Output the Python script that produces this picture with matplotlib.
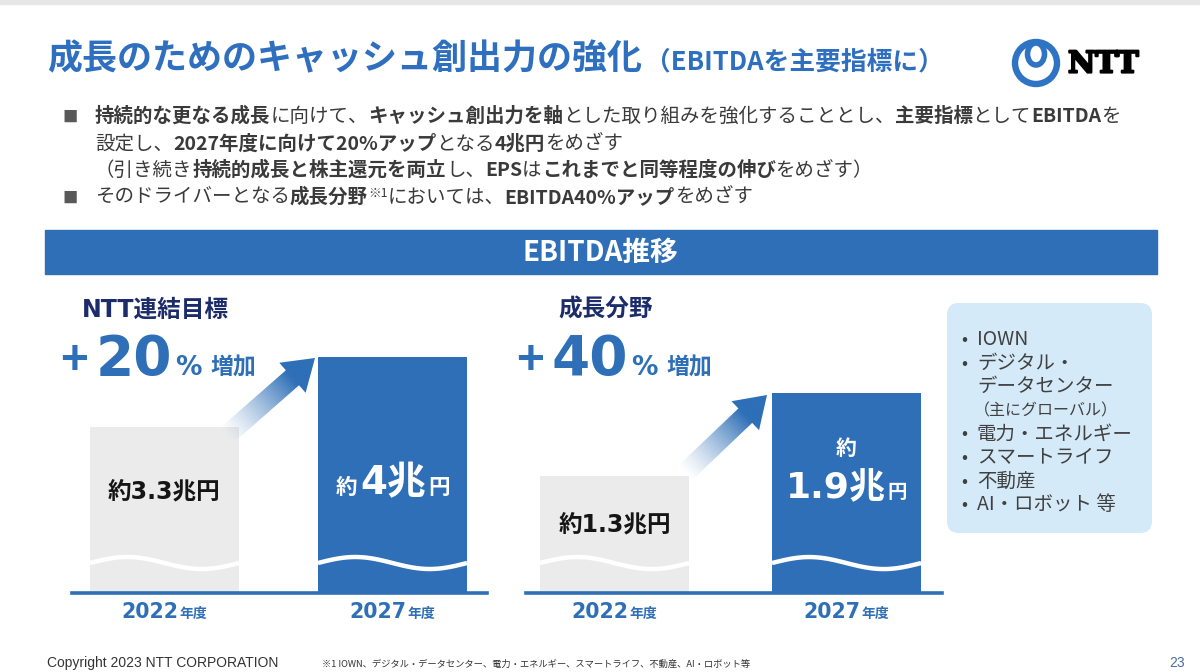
import numpy as np
import matplotlib
matplotlib.use('Agg')
import matplotlib.pyplot as plt
import matplotlib.patheffects as pe
from matplotlib.patches import Rectangle, FancyBboxPatch, Polygon, Circle, Ellipse

plt.rcParams['font.family'] = ['Noto Sans CJK JP', 'DejaVu Sans']
WIDE = ['DejaVu Sans', 'Noto Sans CJK JP']

# ---- data ----
years = ['2022', '2027']
ntt_ebitda = [3.3, 4.0]        # 兆円
growth_ebitda = [1.3, 1.9]     # 兆円
ntt_title = 'NTT連結目標'
growth_title = '成長分野'
ntt_rate = '20'
growth_rate = '40'
growth_fields = ['IOWN', 'デジタル・', 'データセンター', '（主にグローバル）',
                 '電力・エネルギー', 'スマートライフ', '不動産', 'AI・ロボット 等']
field_bullet = [True, True, False, False, True, True, True, True]

# bullet text: (text, bold)
line1 = [('持続的な更なる成長', 1), ('に向けて、', 0), ('キャッシュ創出力を軸', 1),
         ('とした取り組みを強化することとし、', 0), ('主要指標', 1), ('として', 0),
         ('EBITDA', 1), ('を', 0)]
line2 = [('設定し、', 0), ('2027年度に向けて20%アップ', 1), ('となる', 0), ('4兆円', 1), ('をめざす', 0)]
line3 = [('（引き続き', 0), ('持続的成長と株主還元を両立', 1), ('し、', 0), ('EPS', 1), ('は', 0),
         ('これまでと同等程度の伸び', 1), ('をめざす）', 0)]
line4 = [('そのドライバーとなる', 0), ('成長分野', 1), ('※1', 2), ('においては、', 0),
         ('EBITDA40%アップ', 1), ('をめざす', 0)]

BLUE = '#2e6fb7'
TITLE_BLUE = '#2f6fbf'
NAVY = '#1c2c6b'
GRAY_BAR = '#ebebeb'
TEXT = '#3a3a3a'

W, H = 1200, 672
fig = plt.figure(figsize=(12, 6.72), dpi=100)
BASE_PX = 593


def bar_panel(x0, x1, c0, c1, bar_px, vals, base, brk, ppu, top_px=330):
    ax = fig.add_axes([x0 / W, (H - BASE_PX) / H, (x1 - x0) / W, (BASE_PX - top_px) / H])
    step = c1 - c0
    ax.set_xlim(-(c0 - x0) / step, 1 + (x1 - c1) / step)
    ax.set_ylim(base, base + (BASE_PX - top_px) / ppu)
    bars = ax.bar(range(len(vals)), [v - base for v in vals], bottom=base,
                  width=bar_px / step, color=[GRAY_BAR, BLUE])
    t = np.linspace(0, 1, 120)
    for b in bars:
        xs = b.get_x() + t * b.get_width()
        ys = brk + (6 / ppu) * np.sin(2 * np.pi * t)
        ax.plot(xs, ys, color='white', lw=3.2, solid_capstyle='butt')
    ax.axhline(base, color=BLUE, lw=2.6, clip_on=False)
    ax.axis('off')
    return ax, bars


axL, barsL = bar_panel(72, 487, 164.5, 392.5, 149, ntt_ebitda, 1.64, 1.94, 100)
axR, barsR = bar_panel(526, 942, 614.5, 846.5, 149, growth_ebitda, 0.454, 0.671, 138)

ov = fig.add_axes([0, 0, 1, 1])
ov.set_xlim(0, W)
ov.set_ylim(H, 0)
ov.set_autoscale_on(False)
ov.axis('off')
renderer = fig.canvas.get_renderer()


def runs(x, y, parts, ha='left'):
    objs = []
    for p in parts:
        text, size, weight, color = p[:4]
        gap = p[4] if len(p) > 4 else 0
        dy = p[5] if len(p) > 5 else 0
        fam = p[6] if len(p) > 6 else None
        kw = {'family': fam} if fam else {}
        t = ov.text(0, y + dy, text, fontsize=size, fontweight=weight, color=color,
                    va='baseline', ha='left', zorder=6, **kw)
        w = t.get_window_extent(renderer).width
        objs.append((t, w, gap))
    total = sum(w + g for _, w, g in objs)
    cur = {'left': x, 'center': x - total / 2, 'right': x - total}[ha]
    for t, w, g in objs:
        t.set_x(cur)
        cur += w + g
    return total


def bar_cx(ax, bar):
    return ax.transData.transform((bar.get_x() + bar.get_width() / 2, 0))[0]


# top strip
ov.add_patch(Rectangle((0, 0), W, 4, color='#e6e6e6', zorder=1))

# title
runs(47, 69, [('成長のためのキャッシュ創出力の強化', 25.2, 'bold', TITLE_BLUE, 3),
              ('（EBITDAを主要指標に）', 18.5, 'bold', TITLE_BLUE)])

# NTT logo
ov.add_patch(Circle((1036, 63), 21, fill=False, ec='#2f74c4', lw=4.6, zorder=5))
ov.add_patch(Ellipse((1036, 54), 17, 22, fill=False, ec='#2f74c4', lw=4.0, zorder=5))
ov.text(1068, 64, 'NTT', family='DejaVu Serif', fontweight='bold', fontsize=21.5,
        color='black', va='center', ha='left',
        path_effects=[pe.withStroke(linewidth=1.6, foreground='black')])

# bullets
def body(parts):
    out = []
    for s, k in parts:
        if k == 2:
            out.append((s, 9, 'normal', TEXT, 0, -6))
        else:
            out.append((s, 14, 'bold' if k else 'normal', TEXT))
    return out

for yb in (122, 203):
    ov.text(62, yb, '■', fontsize=11, color='#595959', va='baseline', ha='left')
runs(95, 122, body(line1))
runs(95, 150, body(line2))
runs(95, 176, body(line3))
runs(95, 203, body(line4))

# banner
ov.add_patch(Rectangle((45, 230), 1112, 44, color=BLUE, zorder=2))
ov.text(600, 253, 'EBITDA推移', fontsize=20, fontweight='bold', color='white',
        ha='center', va='center', zorder=6)


# gradient arrows
def grad_arrow(tail, tip, half_shaft=10, half_head=20, head_len=30):
    tail = np.array(tail, float)
    tip = np.array(tip, float)
    d = tip - tail
    L = np.hypot(*d)
    u = d / L
    n = np.array([-u[1], u[0]])
    hb = tip - u * head_len
    pts = [tail + n * half_shaft, hb + n * half_shaft, hb + n * half_head, tip,
           hb - n * half_head, hb - n * half_shaft, tail - n * half_shaft]
    pts = np.array(pts)
    poly = Polygon(pts, closed=True, fc='none', ec='none')
    ov.add_patch(poly)
    x0, y0 = pts.min(axis=0) - 2
    x1, y1 = pts.max(axis=0) + 2
    xs = np.linspace(x0, x1, 200)
    ys = np.linspace(y0, y1, 200)
    X, Y = np.meshgrid(xs, ys)
    proj = (X - tail[0]) * u[0] + (Y - tail[1]) * u[1]
    a = np.clip(proj / (L - head_len), 0, 1) ** 1.3
    rgb = matplotlib.colors.to_rgb(BLUE)
    img = np.zeros((200, 200, 4))
    img[..., :3] = rgb
    img[..., 3] = a
    im = ov.imshow(img, extent=(x0, x1, y1, y0), origin='upper', aspect='auto',
                   zorder=3, interpolation='bilinear')
    im.set_clip_path(poly)


grad_arrow((226, 436), (315, 358))
grad_arrow((684, 474), (767, 395))

# panel headers
for x, xp, title, rate in ((82, 60, ntt_title, ntt_rate), (558, 516, growth_title, growth_rate)):
    runs(x, 317, [(title, 17, 'bold', NAVY, 0, 0, WIDE)])
    runs(xp, 375, [('+', 34, 'bold', BLUE, 8), (rate, 39.5, 'bold', BLUE, 3, 0, WIDE),
                   ('%', 19, 'bold', BLUE, 9, 0, WIDE), ('増加', 16.5, 'bold', BLUE)])

# bar labels
cx = [bar_cx(axL, b) for b in barsL]
runs(cx[0], 498, [(f'約{ntt_ebitda[0]:.1f}兆円', 17, 'bold', '#151515', 0, 0, WIDE)], ha='center')
runs(cx[1], 494, [('約', 15.5, 'bold', 'white', 3), (f'{ntt_ebitda[1]:.0f}兆', 28, 'bold', 'white', 2, 0, WIDE),
                  ('円', 15.5, 'bold', 'white')], ha='center')
cx = [bar_cx(axR, b) for b in barsR]
runs(cx[0], 531, [(f'約{growth_ebitda[0]:.1f}兆円', 17, 'bold', '#151515', 0, 0, WIDE)], ha='center')
runs(cx[1], 455, [('約', 15, 'bold', 'white')], ha='center')
runs(cx[1], 498, [(f'{growth_ebitda[1]:.1f}兆', 26, 'bold', 'white', 2, 0, WIDE),
                  ('円', 14, 'bold', 'white')], ha='center')

# year labels
for ax, bars in ((axL, barsL), (axR, barsR)):
    for b, yr in zip(bars, years):
        runs(bar_cx(ax, b), 618, [(yr, 14.8, 'bold', BLUE, 1, 0, WIDE), ('年度', 10, 'bold', BLUE)],
             ha='center')

# side box
ov.add_patch(FancyBboxPatch((947, 303), 205, 230, boxstyle='round,pad=0,rounding_size=12',
                            fc='#d5eaf9', ec='none', zorder=2))
yb = 345
for item, bul in zip(growth_fields, field_bullet):
    small = item.startswith('（')
    if bul:
        ov.text(961, yb, '•', fontsize=13, color='#404040', va='baseline', ha='left', zorder=6)
    ov.text(974 if small else 977, yb, item, fontsize=11.5 if small else 14,
            color='#404040', va='baseline', ha='left', zorder=6)
    yb += 22 if small else 23.5
    if small:
        yb += 2

# footer
ov.text(47, 667, 'Copyright 2023 NTT CORPORATION', family='Liberation Sans', fontsize=10,
        color='#333333', va='baseline', ha='left')
ov.text(322, 667, '※1 IOWN、デジタル・データセンター、電力・エネルギー、スマートライフ、不動産、AI・ロボット等',
        fontsize=6.7, color='#333333', va='baseline', ha='left')
ov.text(1185, 667, '23', family='Liberation Sans', fontsize=10, color='#4a6fa5',
        va='baseline', ha='right')

fig.savefig('out.png', dpi=100)
